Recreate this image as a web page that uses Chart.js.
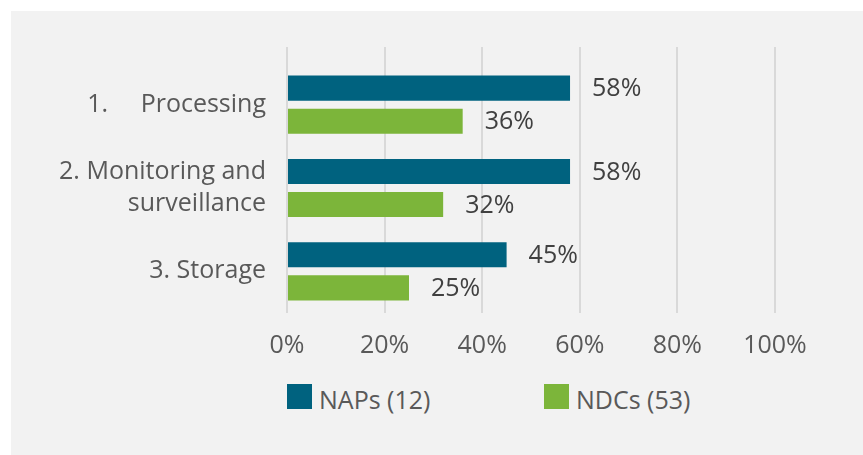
<!DOCTYPE html>
<html>
<head>
<meta charset="utf-8">
<script src="https://cdn.jsdelivr.net/npm/chart.js@4/dist/chart.umd.min.js"></script>
<style>
    body { margin: 0; background: #ffffff; font-family: "Open Sans", sans-serif; }
    #wrap { position: relative; width: 863px; height: 455px; overflow: hidden; }
    #panel { position: absolute; left: 11px; top: 11px; right: 0; bottom: 0; background: #f2f2f2; }
    #chart { position: absolute; left: 0; top: 0; }
    #legend { position: absolute; left: 287px; top: 384px; display: flex; }
    #legend .item { width: 257px; display: flex; align-items: center; }
    #legend .box { width: 25px; height: 25px; margin-right: 7px; }
    #legend .txt { font-size: 25px; line-height: 25px; color: #595959; position: relative; top: 3px; white-space: nowrap; }
</style>
</head>
<body>
<div id="wrap">
    <div id="panel"></div>
    <canvas id="chart" width="863" height="379" style="width:863px;height:379px"></canvas>
    <div id="legend"></div>
</div>
<script>
    var categories = [
        ['1.     Processing'],
        ['2. Monitoring and', 'surveillance'],
        ['3. Storage']
    ];
    var napValues = [58, 58, 45];
    var ndcValues = [36, 32, 25];
    var seriesNames = ['NAPs (12)', 'NDCs (53)'];
    var seriesColors = ['#00627f', '#7cb53a'];
    var tickValues = [0, 20, 40, 60, 80, 100];

    var gridColor = '#d9d9d9';
    var fontFamily = '"Open Sans", sans-serif';

    // 막대 끝에 값 표시
    var valueLabels = {
        id: 'valueLabels',
        afterDatasetsDraw: function (chart) {
            var ctx = chart.ctx;
            ctx.save();
            ctx.font = '25px ' + fontFamily;
            ctx.fillStyle = '#404040';
            ctx.textAlign = 'left';
            ctx.textBaseline = 'middle';
            chart.data.datasets.forEach(function (ds, di) {
                var meta = chart.getDatasetMeta(di);
                meta.data.forEach(function (bar, i) {
                    ctx.fillText(ds.data[i] + '%', bar.x + 22, bar.y + 1);
                });
            });
            ctx.restore();
        }
    };

    // html 범례
    var htmlLegend = {
        id: 'htmlLegend',
        afterUpdate: function (chart) {
            var box = document.getElementById('legend');
            box.innerHTML = '';
            chart.data.datasets.forEach(function (ds) {
                var item = document.createElement('div');
                item.className = 'item';
                var sw = document.createElement('span');
                sw.className = 'box';
                sw.style.background = ds.backgroundColor;
                var tx = document.createElement('span');
                tx.className = 'txt';
                tx.textContent = ds.label;
                item.appendChild(sw);
                item.appendChild(tx);
                box.appendChild(item);
            });
        }
    };

    new Chart(document.getElementById('chart').getContext('2d'), {
        type: 'bar',
        data: {
            labels: categories,
            datasets: [
                {label: seriesNames[0], data: napValues, backgroundColor: seriesColors[0]},
                {label: seriesNames[1], data: ndcValues, backgroundColor: seriesColors[1]}
            ]
        },
        options: {
            indexAxis: 'y',
            responsive: false,
            animation: false,
            devicePixelRatio: 1,
            layout: {padding: {left: 0, right: 88, top: 47, bottom: 0}},
            datasets: {
                bar: {categoryPercentage: 0.795, barPercentage: 0.758}
            },
            plugins: {
                legend: {display: false},
                tooltip: {enabled: false}
            },
            scales: {
                x: {
                    position: 'bottom',
                    min: 0,
                    max: 100,
                    afterBuildTicks: function (scale) {
                        scale.ticks = tickValues.map(function (v) { return {value: v}; });
                    },
                    ticks: {
                        padding: 18,
                        color: '#595959',
                        font: {family: fontFamily, size: 25},
                        callback: function (v) { return v + '%'; }
                    },
                    grid: {color: gridColor, lineWidth: 2, drawTicks: false},
                    border: {display: false}
                },
                x2: {
                    type: 'linear',
                    position: 'top',
                    min: 0,
                    max: 100,
                    afterBuildTicks: function (scale) {
                        scale.ticks = tickValues.map(function (v) { return {value: v}; });
                    },
                    ticks: {display: false},
                    grid: {color: gridColor, lineWidth: 2, drawOnChartArea: false, drawTicks: true, tickLength: 16},
                    border: {display: false}
                },
                y: {
                    afterFit: function (scale) {
                        scale.width = 287;
                        scale.paddingTop = 0;
                        scale.paddingBottom = 0;
                    },
                    ticks: {
                        padding: 21,
                        color: '#595959',
                        font: {family: fontFamily, size: 25, lineHeight: 1.28}
                    },
                    grid: {display: false, drawTicks: false},
                    border: {display: false}
                }
            }
        },
        plugins: [valueLabels, htmlLegend]
    });
</script>
</body>
</html>
